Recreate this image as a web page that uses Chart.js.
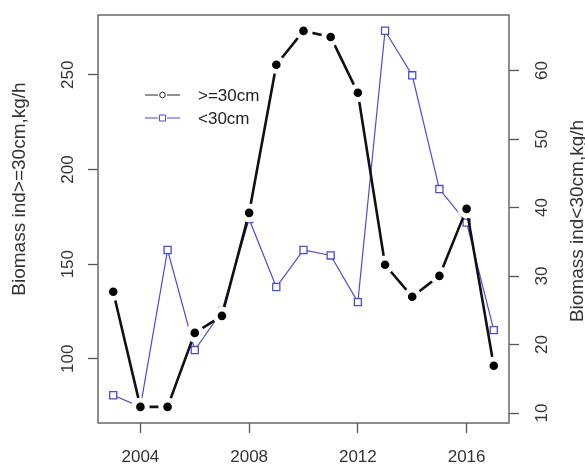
<!DOCTYPE html>
<html>
<head>
<meta charset="utf-8">
<script src="https://cdn.jsdelivr.net/npm/chart.js@4/dist/chart.umd.min.js"></script>
<style>
  html, body { margin: 0; padding: 0; background: #fff; }
  #c { display: block; }
</style>
</head>
<body>
<canvas id="c" width="585" height="467"></canvas>
<script>
// ---- data ----
const years = [2003, 2004, 2005, 2006, 2007, 2008, 2009, 2010, 2011, 2012, 2013, 2014, 2015, 2016, 2017];
const bigFish = [135.4, 74.6, 74.6, 113.7, 122.7, 177.1, 255.3, 273.2, 270.0, 240.5, 149.7, 132.8, 143.8, 179.2, 96.3];
const smallFish = [12.6, 10.9, 33.8, 19.2, 24.9, 38.3, 28.4, 33.8, 33.0, 26.2, 65.8, 59.3, 42.7, 37.8, 22.1];
const seriesLabels = ['>=30cm', '<30cm'];
const axisTitles = ['Biomass ind>=30cm,kg/h', 'Biomass ind<30cm,kg/h'];
const xTicks = [2004, 2008, 2012, 2016];
const leftTicks = [100, 150, 200, 250];
const rightTicks = [10, 20, 30, 40, 50, 60];

const FONT = '"Liberation Sans", Arial, sans-serif';
const BLUE = '#4b4bdc';
const AXIS = '#555';

const toPts = arr => years.map((y, i) => ({ x: y, y: arr[i] }));

const bgPlugin = {
  id: 'bg',
  beforeDraw(chart) {
    const ctx = chart.ctx;
    ctx.save();
    ctx.fillStyle = '#fff';
    ctx.fillRect(0, 0, chart.width, chart.height);
    ctx.restore();
  },
  beforeDatasetsDraw(chart) {
    const { ctx, chartArea: a } = chart;
    ctx.save();
    ctx.strokeStyle = '#6a6a6a';
    ctx.lineWidth = 1.5;
    ctx.strokeRect(a.left, a.top, a.right - a.left, a.bottom - a.top);
    ctx.restore();
  },
  afterDraw(chart) {
    const ctx = chart.ctx;
    // axis titles (both read bottom-to-top)
    ctx.save();
    ctx.font = '19px ' + FONT;
    ctx.fillStyle = '#333';
    ctx.textAlign = 'center';
    ctx.textBaseline = 'middle';
    ctx.save();
    ctx.translate(20, 189);
    ctx.rotate(-Math.PI / 2);
    ctx.fillText(axisTitles[0], 0, 0);
    ctx.restore();
    ctx.save();
    ctx.translate(578, 221);
    ctx.rotate(-Math.PI / 2);
    ctx.fillText(axisTitles[1], 0, 0);
    ctx.restore();
    ctx.restore();

    // legend
    ctx.save();
    const rows = [
      { y: 95, color: '#222', shape: 'circle', label: seriesLabels[0] },
      { y: 118, color: BLUE, shape: 'square', label: seriesLabels[1] }
    ];
    rows.forEach(r => {
      ctx.strokeStyle = r.color;
      ctx.lineWidth = 1;
      ctx.beginPath();
      ctx.moveTo(145, r.y); ctx.lineTo(158, r.y);
      ctx.moveTo(167, r.y); ctx.lineTo(180, r.y);
      ctx.stroke();
      ctx.beginPath();
      if (r.shape === 'circle') {
        ctx.arc(162.5, r.y, 2.8, 0, Math.PI * 2);
      } else {
        ctx.rect(159.5, r.y - 3, 6, 6);
      }
      ctx.stroke();
      ctx.fillStyle = '#222';
      ctx.font = '17px ' + FONT;
      ctx.textAlign = 'left';
      ctx.textBaseline = 'middle';
      ctx.fillText(r.label, 198, r.y + 1);
    });
    ctx.restore();
  }
};

const fixV = w => s => { s.width = w; s.paddingTop = 0; s.paddingBottom = 0; };

new Chart(document.getElementById('c'), {
  type: 'line',
  data: {
    datasets: [
      {
        label: seriesLabels[0],
        data: toPts(bigFish),
        yAxisID: 'y',
        borderColor: '#111',
        borderWidth: 2.6,
        pointStyle: 'circle',
        pointRadius: 6.8,
        pointBackgroundColor: '#000',
        pointBorderColor: '#fff',
        pointBorderWidth: 5,
        tension: 0,
        order: 0
      },
      {
        label: seriesLabels[1],
        data: toPts(smallFish),
        yAxisID: 'y2',
        borderColor: BLUE,
        borderWidth: 1.2,
        pointStyle: 'rect',
        pointRadius: 5,
        pointBackgroundColor: '#fff',
        pointBorderColor: BLUE,
        pointBorderWidth: 1.3,
        tension: 0,
        order: 1
      }
    ]
  },
  options: {
    responsive: false,
    devicePixelRatio: 1,
    animation: false,
    events: [],
    layout: { padding: { top: 15, left: 0, right: 0, bottom: 0 } },
    plugins: { legend: { display: false }, tooltip: { enabled: false } },
    scales: {
      x: {
        type: 'linear',
        min: 2002.44,
        max: 2017.56,
        afterBuildTicks: s => { s.ticks = xTicks.map(v => ({ value: v })); },
        afterFit: s => { s.height = 44; s.paddingLeft = 0; s.paddingRight = 0; },
        border: { display: false },
        grid: { drawOnChartArea: false, drawTicks: true, tickLength: 10, tickColor: AXIS, tickWidth: 1.3 },
        ticks: { font: { size: 17, family: FONT }, color: '#333', padding: 14, maxRotation: 0, autoSkip: false, callback: v => String(v) }
      },
      y: {
        type: 'linear',
        position: 'left',
        min: 66.1,
        max: 281.6,
        afterBuildTicks: s => { s.ticks = leftTicks.map(v => ({ value: v })); },
        afterFit: fixV(98),
        border: { display: false },
        grid: { drawOnChartArea: false, drawTicks: true, tickLength: 10, tickColor: AXIS, tickWidth: 1.3 },
        ticks: { font: { size: 17, family: FONT }, color: '#333', padding: 6, minRotation: 90, maxRotation: 90, crossAlign: 'center', autoSkip: false, callback: v => String(v) }
      },
      y2: {
        type: 'linear',
        position: 'right',
        min: 8.55,
        max: 68.1,
        afterBuildTicks: s => { s.ticks = rightTicks.map(v => ({ value: v })); },
        afterFit: fixV(76),
        border: { display: false },
        grid: { drawOnChartArea: false, drawTicks: true, tickLength: 10, tickColor: AXIS, tickWidth: 1.3 },
        ticks: { font: { size: 17, family: FONT }, color: '#333', padding: 14, minRotation: 90, maxRotation: 90, crossAlign: 'center', autoSkip: false, callback: v => String(v) }
      }
    }
  },
  plugins: [bgPlugin]
});
</script>
</body>
</html>
